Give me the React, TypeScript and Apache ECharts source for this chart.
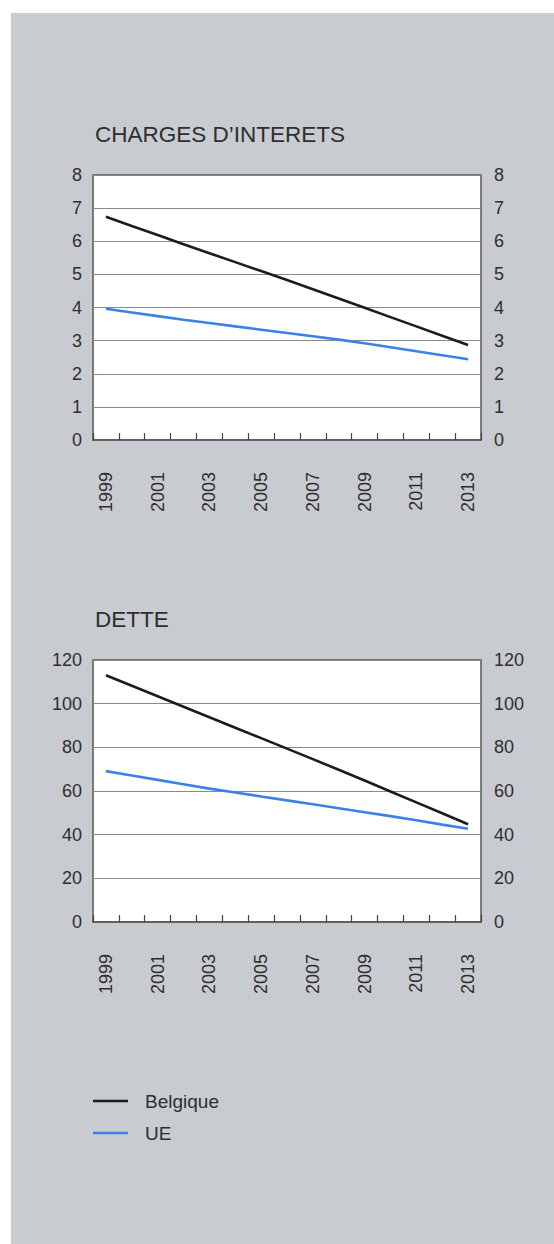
import React, { useEffect, useRef } from "react";
import * as echarts from "echarts";

const years = ["1999","2000","2001","2002","2003","2004","2005","2006","2007","2008","2009","2010","2011","2012","2013"];
const interetsBelgique = [6.74, 6.46, 6.19, 5.91, 5.64, 5.37, 5.1, 4.83, 4.55, 4.27, 3.99, 3.71, 3.43, 3.15, 2.87];
const interetsUE = [3.96, 3.85, 3.74, 3.63, 3.53, 3.43, 3.33, 3.23, 3.13, 3.03, 2.92, 2.8, 2.68, 2.56, 2.44];
const detteBelgique = [113, 108.2, 103.4, 98.6, 93.8, 89.0, 84.2, 79.4, 74.6, 69.7, 64.8, 59.8, 54.8, 49.8, 44.8];
const detteUE = [69.1, 67.1, 65.1, 63.1, 61.1, 59.3, 57.5, 55.7, 53.9, 52.1, 50.3, 48.5, 46.6, 44.6, 42.7];
const titles = ["CHARGES D\u2019INTERETS", "DETTE"];
const seriesNames = ["Belgique", "UE"];

const FONT = "Liberation Sans, Arial, Helvetica, sans-serif";
const TXT = "#2e2e2e";
const BLACK = "#1c1c1c";
const BLUE = "#3b82e6";

export default function App() {
  const ref = useRef<HTMLDivElement>(null);
  useEffect(() => {
    document.body.style.margin = "0";
    const chart = echarts.init(ref.current!, null, { renderer: "svg" });
    const xAxisBase = (gridIndex: number) => ({
      type: "category",
      gridIndex,
      data: years,
      boundaryGap: true,
      axisLine: { show: true, lineStyle: { color: "#555", width: 1.5 } },
      axisTick: { show: true, inside: true, length: 7, interval: 0, lineStyle: { color: "#444", width: 1.2 } },
      axisLabel: { interval: 1, rotate: 90, margin: 32, fontSize: 18, color: TXT, fontFamily: FONT },
    });
    const yAxisBase = (gridIndex: number, max: number, interval: number, position: string, split: boolean) => ({
      type: "value",
      gridIndex,
      min: 0,
      max,
      interval,
      position,
      axisLine: { show: false },
      axisTick: { show: false },
      splitLine: { show: split, lineStyle: { color: "#8a8a8a", width: 1 } },
      axisLabel: { margin: position === "left" ? 11 : 13, fontSize: 18, color: TXT, fontFamily: FONT },
    });
    const lineSeries = (name: string, data: number[], color: string, axis: number) => ({
      type: "line",
      name,
      data,
      xAxisIndex: axis,
      yAxisIndex: axis * 2,
      symbol: "none",
      lineStyle: { color, width: 2.6 },
      itemStyle: { color },
    });
    const titleStyle = { fontSize: 22.5, fontWeight: "normal", color: TXT, fontFamily: FONT };
    chart.setOption({
      animation: false,
      backgroundColor: "#ffffff",
      graphic: [
        { type: "rect", left: 11, top: 13, shape: { width: 543, height: 1231 }, style: { fill: "#c8ccd0" }, z: -10 },
      ],
      title: [
        { text: titles[0], left: 95, top: 123, padding: 0, textStyle: titleStyle },
        { text: titles[1], left: 95, top: 608, padding: 0, textStyle: titleStyle },
      ],
      legend: {
        orient: "vertical",
        left: 93,
        top: 1091,
        padding: 0,
        icon: "rect",
        itemWidth: 35,
        itemHeight: 2.6,
        itemGap: 12,
        data: seriesNames,
        textStyle: { fontSize: 19, color: TXT, fontFamily: FONT, padding: [0, 0, 0, 12], lineHeight: 20 },
      },
      grid: [
        { left: 93, top: 175, width: 388, height: 265, show: true, backgroundColor: "#ffffff", borderColor: "#555", borderWidth: 1.5 },
        { left: 93, top: 660, width: 388, height: 262, show: true, backgroundColor: "#ffffff", borderColor: "#555", borderWidth: 1.5 },
      ],
      xAxis: [xAxisBase(0), xAxisBase(1)],
      yAxis: [
        yAxisBase(0, 8, 1, "left", true),
        yAxisBase(0, 8, 1, "right", false),
        yAxisBase(1, 120, 20, "left", true),
        yAxisBase(1, 120, 20, "right", false),
      ],
      series: [
        lineSeries(seriesNames[0], interetsBelgique, BLACK, 0),
        lineSeries(seriesNames[1], interetsUE, BLUE, 0),
        lineSeries(seriesNames[0], detteBelgique, BLACK, 1),
        lineSeries(seriesNames[1], detteUE, BLUE, 1),
      ],
    });
    return () => chart.dispose();
  }, []);
  return <div ref={ref} style={{ width: 554, height: 1244 }} />;
}
